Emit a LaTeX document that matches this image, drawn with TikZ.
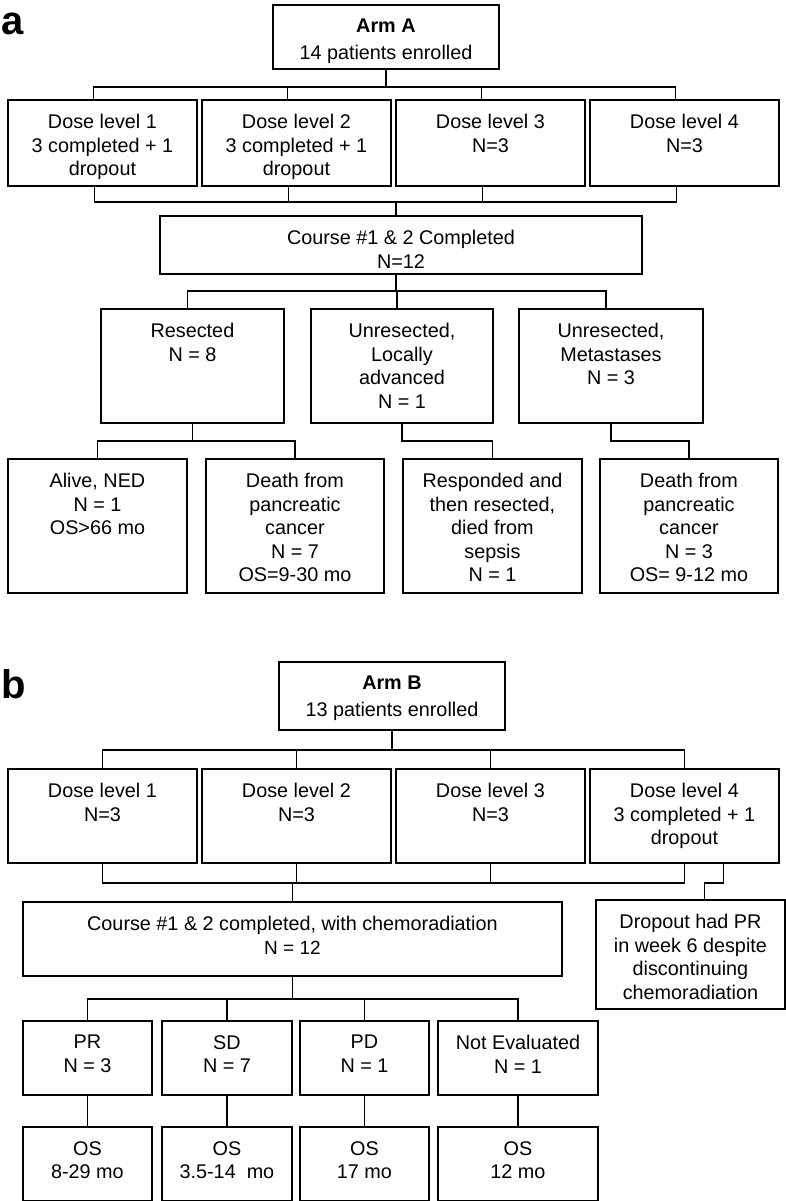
\documentclass[tikz,border=0pt]{standalone}
\usepackage{fontspec}
\setmainfont{Liberation Sans}
\tikzset{bx/.style={draw, line width=1.9pt, inner sep=0pt, anchor=north west}}
\tikzset{tx/.style={anchor=north, align=center, inner sep=0pt, yshift=-15pt, font=\fontsize{19.8}{23.6}\selectfont}}
\tikzset{ln/.style={line width=1.9pt}}
\tikzset{lbl/.style={anchor=base west, inner sep=0pt, font=\fontsize{40}{40}\bfseries\selectfont}}

\begin{document}
\begin{tikzpicture}[x=1pt, y=-1pt]
  \useasboundingbox (0,0) rectangle (786,1201);
  % panel a
  \node[lbl] (pa) at (1,35) {a};
  \node[bx, minimum width=226, minimum height=64,
    label={[tx]north:{\textbf{Arm A}\\[3pt]14 patients enrolled}}] (armA) at (272,4) {};
  \node[bx, minimum width=189, minimum height=86,
    label={[tx]north:{Dose level 1\\3 completed + 1\\dropout}}] (da1) at (7,99) {};
  \node[bx, minimum width=189, minimum height=86,
    label={[tx]north:{Dose level 2\\3 completed + 1\\dropout}}] (da2) at (201,99) {};
  \node[bx, minimum width=189, minimum height=86,
    label={[tx]north:{Dose level 3\\N=3}}] (da3) at (395,99) {};
  \node[bx, minimum width=189, minimum height=86,
    label={[tx]north:{Dose level 4\\N=3}}] (da4) at (589,99) {};
  \node[bx, minimum width=482, minimum height=58,
    label={[tx]north:{Course \#1 \& 2 Completed\\N=12}}] (ca) at (159,215) {};
  \node[bx, minimum width=183, minimum height=114,
    label={[tx]north:{Resected\\N = 8}}] (ra1) at (100,308) {};
  \node[bx, minimum width=182, minimum height=114,
    label={[tx]north:{Unresected,\\Locally\\advanced\\N = 1}}] (ra2) at (310,308) {};
  \node[bx, minimum width=184, minimum height=114,
    label={[tx]north:{Unresected,\\Metastases\\N = 3}}] (ra3) at (518,308) {};
  \node[bx, minimum width=179, minimum height=134,
    label={[tx]north:{Alive, NED\\N = 1\\OS>66 mo}}] (oa1) at (7,458) {};
  \node[bx, minimum width=178, minimum height=134,
    label={[tx]north:{Death from\\pancreatic\\cancer\\N = 7\\OS=9-30 mo}}] (oa2) at (205,458) {};
  \node[bx, minimum width=179, minimum height=134,
    label={[tx]north:{Responded and\\then resected,\\died from\\sepsis\\N = 1}}] (oa3) at (402,458) {};
  \node[bx, minimum width=178, minimum height=134,
    label={[tx]north:{Death from\\pancreatic\\cancer\\N = 3\\OS= 9-12 mo}}] (oa4) at (599,458) {};

  \draw[ln] (armA.south) -- ++(0,17) -| ([xshift=-9pt]da1.north);
  \draw[ln] (armA.south) -- ++(0,17) -| ([xshift=-9pt]da2.north);
  \draw[ln] (armA.south) -- ++(0,17) -| ([xshift=-9pt]da3.north);
  \draw[ln] (armA.south) -- ++(0,17) -| ([xshift=-9pt]da4.north);
  \draw[ln] ([xshift=-8pt]da1.south) -- ++(0,15) -| ([xshift=-5pt]ca.north);
  \draw[ln] ([xshift=-8pt]da2.south) -- ++(0,15) -| ([xshift=-5pt]ca.north);
  \draw[ln] ([xshift=-8pt]da3.south) -- ++(0,15) -| ([xshift=-5pt]ca.north);
  \draw[ln] ([xshift=-8pt]da4.south) -- ++(0,15) -| ([xshift=-5pt]ca.north);
  \draw[ln] ([xshift=-5pt]ca.south) -- ++(0,16) -| ([xshift=-5pt]ra1.north);
  \draw[ln] ([xshift=-5pt]ca.south) -- ++(0,16) -| ([xshift=-5pt]ra2.north);
  \draw[ln] ([xshift=-5pt]ca.south) -- ++(0,16) -| ([xshift=-5pt]ra3.north);
  \draw[ln] (ra1.south) -- ++(0,17) -| (oa1.north);
  \draw[ln] (ra1.south) -- ++(0,17) -| (oa2.north);
  \draw[ln] (ra2.south) -- ++(0,17) -| (oa3.north);
  \draw[ln] (ra3.south) -- ++(0,17) -| (oa4.north);

  % panel b
  \node[lbl] (pb) at (1,698) {b};
  \node[bx, minimum width=226, minimum height=68,
    label={[tx]north:{\textbf{Arm B}\\[3pt]13 patients enrolled}}] (armB) at (278,661) {};
  \node[bx, minimum width=189, minimum height=94,
    label={[tx]north:{Dose level 1\\N=3}}] (db1) at (7,768) {};
  \node[bx, minimum width=189, minimum height=94,
    label={[tx]north:{Dose level 2\\N=3}}] (db2) at (201,768) {};
  \node[bx, minimum width=189, minimum height=94,
    label={[tx]north:{Dose level 3\\N=3}}] (db3) at (395,768) {};
  \node[bx, minimum width=189, minimum height=94,
    label={[tx]north:{Dose level 4\\3 completed + 1\\dropout}}] (db4) at (589,768) {};
  \node[bx, minimum width=539, minimum height=74,
    label={[tx]north:{Course \#1 \& 2 completed, with chemoradiation\\{\fontsize{19}{23.6}\selectfont N = 12}}}] (cb) at (22,901) {};
  \node[bx, minimum width=189, minimum height=109,
    label={[tx]north:{Dropout had PR\\in week 6 despite\\discontinuing\\chemoradiation}}] (drop) at (595,899) {};
  \node[bx, minimum width=129, minimum height=74,
    label={[tx]north:{PR\\N = 3}}] (rb1) at (22,1020) {};
  \node[bx, minimum width=130, minimum height=74,
    label={[tx]north:{SD\\N = 7}}] (rb2) at (161,1020) {};
  \node[bx, minimum width=129, minimum height=74,
    label={[tx]north:{PD\\N = 1}}] (rb3) at (299,1020) {};
  \node[bx, minimum width=160, minimum height=74,
    label={[tx]north:{Not Evaluated\\N = 1}}] (rb4) at (437,1020) {};
  \node[bx, minimum width=129, minimum height=74,
    label={[tx]north:{OS\\8-29 mo}}] (ob1) at (22,1126) {};
  \node[bx, minimum width=130, minimum height=74,
    label={[tx]north:{OS\\3.5-14\ \ mo}}] (ob2) at (161,1126) {};
  \node[bx, minimum width=129, minimum height=74,
    label={[tx]north:{OS\\17 mo}}] (ob3) at (299,1126) {};
  \node[bx, minimum width=160, minimum height=74,
    label={[tx]north:{OS\\12 mo}}] (ob4) at (437,1126) {};

  \draw[ln] (armB.south) -- ++(0,19) -| (db1.north);
  \draw[ln] (armB.south) -- ++(0,19) -| (db2.north);
  \draw[ln] (armB.south) -- ++(0,19) -| (db3.north);
  \draw[ln] (armB.south) -- ++(0,19) -| (db4.north);
  \draw[ln] (db1.south) -- ++(0,19) -| (cb.north);
  \draw[ln] (db2.south) -- ++(0,19) -| (cb.north);
  \draw[ln] (db3.south) -- ++(0,19) -| (cb.north);
  \draw[ln] (db4.south) -- ++(0,19) -| (cb.north);
  \draw[ln] ([xshift=39pt]db4.south) -- ++(0,19) -| ([xshift=14pt]drop.north);
  \draw[ln] (cb.south) -- ++(0,22) -| (rb1.north);
  \draw[ln] (cb.south) -- ++(0,22) -| (rb2.north);
  \draw[ln] (cb.south) -- ++(0,22) -| (rb3.north);
  \draw[ln] (cb.south) -- ++(0,22) -| (rb4.north);
  \draw[ln] (rb1.south) -- (ob1.north);
  \draw[ln] (rb2.south) -- (ob2.north);
  \draw[ln] (rb3.south) -- (ob3.north);
  \draw[ln] (rb4.south) -- (ob4.north);
\end{tikzpicture}
\end{document}
